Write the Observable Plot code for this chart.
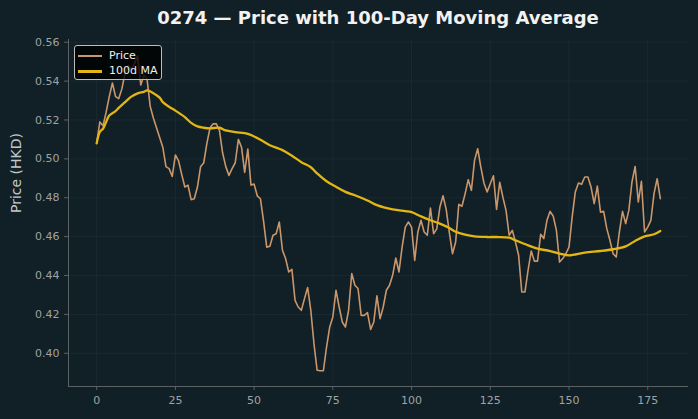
<!DOCTYPE html>
<html>
<head>
<meta charset="utf-8">
<script src="https://cdn.jsdelivr.net/npm/d3@7"></script>
<script src="https://cdn.jsdelivr.net/npm/@observablehq/plot@0.6"></script>
<style>
  html, body { margin: 0; padding: 0; background: #111f26; }
  #wrap { position: relative; width: 698px; height: 419px; background: #111f26; font-family: "DejaVu Sans", sans-serif; overflow: hidden; }
  #title { height: 30px; box-sizing: border-box; padding-left: 68px; padding-right: 10px; text-align: center; color: #f2f2f2; font-weight: bold; font-size: 18px; line-height: 36px; }
  #legend { position: absolute; left: 74px; top: 45px; width: 88px; height: 35px; box-sizing: border-box; background: rgba(0,0,0,0.8); border: 1px solid #bdbdbd; border-radius: 3px; }
  .lg-row { position: absolute; left: 0; height: 14px; width: 100%; }
  .lg-line { position: absolute; left: 3px; width: 24px; }
  .lg-text { position: absolute; left: 34px; font-size: 11px; color: #f0f0f0; line-height: 14px; top: 0; }
</style>
</head>
<body>
<div id="wrap">
  <div id="title"></div>
  <div id="chart"></div>
  <div id="legend"></div>
</div>
<script>
const titleText = "0274 — Price with 100-Day Moving Average";
const yLabel = "Price (HKD)";
const seriesNames = ["Price", "100d MA"];
const seriesColors = ["#c9976b", "#e2b714"];

// Daily price, index 0..179
const price = [
  0.508, 0.519, 0.517, 0.524, 0.532, 0.539, 0.532, 0.531, 0.536, 0.544,
  0.548, 0.546, 0.549, 0.553, 0.538, 0.543, 0.541, 0.527, 0.521, 0.516,
  0.511, 0.506, 0.496, 0.495, 0.491, 0.502, 0.499, 0.492, 0.4855, 0.4865,
  0.479, 0.4795, 0.4855, 0.496, 0.498, 0.508, 0.516, 0.518, 0.518, 0.5145,
  0.503, 0.496, 0.4915, 0.495, 0.498, 0.510, 0.506, 0.493, 0.505, 0.4865,
  0.487, 0.481, 0.4795, 0.468, 0.4546, 0.455, 0.4607, 0.4615, 0.4675, 0.453,
  0.4487, 0.4418, 0.4432, 0.4272, 0.4238, 0.4221, 0.4281, 0.4338, 0.4221, 0.405,
  0.3913, 0.391, 0.391, 0.4032, 0.4135, 0.4187, 0.4324, 0.4238, 0.4161, 0.4135,
  0.4221, 0.441, 0.435, 0.4333, 0.4195, 0.4195, 0.4209, 0.4123, 0.4161, 0.4295,
  0.4178, 0.4238, 0.4324, 0.435, 0.4401, 0.449, 0.4418, 0.4546, 0.4649, 0.4675,
  0.4649, 0.4478, 0.4624, 0.4684, 0.4624, 0.4607, 0.4747, 0.4615, 0.464, 0.4752,
  0.481, 0.474, 0.462, 0.4512, 0.4572, 0.4766, 0.4756, 0.482, 0.4893, 0.4838,
  0.4992, 0.5052, 0.4958, 0.4875, 0.483, 0.4872, 0.4913, 0.474, 0.488, 0.4803,
  0.4735, 0.4607, 0.4632, 0.4572, 0.4504, 0.4315, 0.4315, 0.4427, 0.4526, 0.4474,
  0.4474, 0.4612, 0.459, 0.4684, 0.473, 0.4705, 0.4632, 0.4469, 0.4487, 0.4512,
  0.4546, 0.470, 0.483, 0.4876, 0.4869, 0.4907, 0.4907, 0.4855, 0.477, 0.486,
  0.4726, 0.473, 0.4641, 0.4581, 0.4512, 0.4495, 0.4624, 0.473, 0.4667, 0.4735,
  0.4881, 0.4961, 0.4778, 0.4884, 0.4624, 0.4649, 0.4684, 0.4821, 0.4898, 0.4795
];

// 100-day moving average, read at selected indices
const maIndex = [0, 1, 2, 3, 4, 6, 7, 9, 11, 13, 15, 16, 18, 20, 21, 23, 25, 28, 30, 32, 34, 36, 39, 41, 44, 48, 50, 52, 55, 59, 62, 65, 68, 70, 73, 76, 79, 82, 86, 89, 94, 98, 100, 103, 106, 109, 112, 114, 117, 120, 124, 127, 131, 133, 137, 140, 144, 147, 150, 155, 160, 164, 168, 171, 174, 177, 179];
const maValue = [0.508, 0.5138, 0.5155, 0.519, 0.5223, 0.5246, 0.5262, 0.5292, 0.532, 0.5337, 0.5345, 0.5352, 0.5338, 0.5315, 0.5292, 0.5268, 0.5248, 0.5215, 0.5185, 0.5167, 0.516, 0.5157, 0.516, 0.5146, 0.5138, 0.5129, 0.5115, 0.5098, 0.507, 0.5045, 0.5016, 0.4983, 0.4957, 0.4925, 0.4885, 0.4856, 0.483, 0.4813, 0.4786, 0.4762, 0.474, 0.4731, 0.4726, 0.4704, 0.4684, 0.4667, 0.4644, 0.4625, 0.461, 0.4601, 0.4598, 0.4598, 0.4595, 0.4581, 0.4555, 0.4538, 0.4526, 0.4513, 0.4504, 0.4518, 0.4526, 0.4535, 0.455, 0.4578, 0.4601, 0.4612, 0.4629];

const xTicks = [0, 25, 50, 75, 100, 125, 150, 175];
const yTicks = [0.40, 0.42, 0.44, 0.46, 0.48, 0.50, 0.52, 0.54, 0.56];

const priceData = price.map((v, i) => ({ i, v }));
const maData = maIndex.map((i, k) => ({ i, v: maValue[k] }));

const xDomain = [-8.95, 187.95];
const yDomain = [0.3829, 0.5614];

document.getElementById("title").textContent = titleText;

const gridColor = "#1d2c33";
const axisColor = "#5b6266";
const tickText = "#9fa3a5";

const chart = Plot.plot({
  width: 698,
  height: 389,
  marginLeft: 68,
  marginRight: 10,
  marginTop: 9,
  marginBottom: 33,
  style: { background: "transparent", fontFamily: "DejaVu Sans, sans-serif", fontSize: "11px", color: tickText, overflow: "visible" },
  x: { domain: xDomain },
  y: { domain: yDomain },
  marks: [
    Plot.gridX(xTicks, { stroke: gridColor, strokeOpacity: 1, strokeWidth: 0.8 }),
    Plot.gridY(yTicks, { stroke: gridColor, strokeOpacity: 1, strokeWidth: 0.8 }),
    Plot.ruleX([xDomain[0]], { stroke: axisColor, strokeWidth: 1 }),
    Plot.ruleY([yDomain[0]], { stroke: axisColor, strokeWidth: 1 }),
    Plot.axisX({ ticks: xTicks, tickSize: 4, tickPadding: 6, stroke: axisColor, fill: tickText, fontSize: 11, label: null }),
    Plot.axisY({ ticks: yTicks, tickSize: 4, tickPadding: 5, stroke: axisColor, fill: tickText, fontSize: 11, tickFormat: d3.format(".2f"), label: null }),
    Plot.text([yLabel], { frameAnchor: "left", dx: -52, rotate: -90, fill: "#c4c8ca", fontSize: 14, text: d => d }),
    Plot.line(priceData, { x: "i", y: "v", stroke: seriesColors[0], strokeWidth: 1.6 }),
    Plot.line(maData, { x: "i", y: "v", stroke: seriesColors[1], strokeWidth: 2.3, curve: "catmull-rom" })
  ]
});
document.getElementById("chart").appendChild(chart);

const legend = document.getElementById("legend");
seriesNames.forEach((name, k) => {
  const row = document.createElement("div");
  row.className = "lg-row";
  row.style.top = (3 + k * 15) + "px";
  const ln = document.createElement("div");
  ln.className = "lg-line";
  ln.style.borderTop = (k === 0 ? 2 : 3) + "px solid " + seriesColors[k];
  ln.style.top = (k === 0 ? 6 : 5.5) + "px";
  const tx = document.createElement("div");
  tx.className = "lg-text";
  tx.textContent = name;
  row.appendChild(ln);
  row.appendChild(tx);
  legend.appendChild(row);
});
</script>
</body>
</html>
